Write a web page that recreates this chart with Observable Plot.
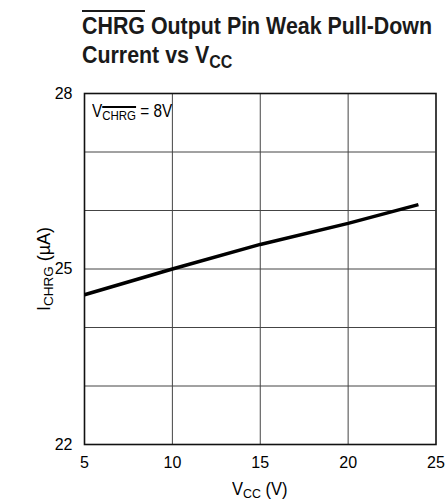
<!DOCTYPE html>
<html>
<head>
<meta charset="utf-8">
<script src="https://cdn.jsdelivr.net/npm/d3@7"></script>
<script src="https://cdn.jsdelivr.net/npm/@observablehq/plot@0.6"></script>
<style>
  html, body { margin: 0; padding: 0; background: #fff; }
  #wrap { position: relative; width: 445px; height: 502px; overflow: hidden;
          font-family: "Liberation Sans", Arial, sans-serif; color: #000; }
  #chart { position: absolute; left: 0; top: 0; }
  .ov { position: absolute; white-space: nowrap; line-height: 1; display: inline-block; }
  .title { left: 82px; font-weight: bold; font-size: 24.5px; color: #1a1a1a; transform-origin: 0 0; }
  .ol { text-decoration: overline; text-decoration-thickness: 1.5px; }
  sub { font-size: 0.75em; vertical-align: -0.25em; line-height: 0; }
</style>
</head>
<body>
<div id="wrap">
  <div id="chart"></div>
  <div class="ov title" id="t1" style="top:14.2px;"><span class="ol">CHRG</span> Output Pin Weak Pull-Down</div>
  <div class="ov title" id="t2" style="top:42.5px;">Current vs V<sub>CC</sub></div>
  <div class="ov" id="ann" style="left:92px; top:101.8px; font-size:18px; transform-origin:0 0;">V<sub><span class="ol">CHRG</span></sub> = 8V</div>
  <div class="ov" id="xl" style="top:479.5px; font-size:18px; transform-origin:0 0;">V<sub>CC</sub> (V)</div>
  <div class="ov" id="yl" style="font-size:18px; transform-origin:50% 50%;">I<sub>CHRG</sub> (µA)</div>
</div>
<script>
// Data
const vcc = [5, 10, 15, 20, 24];
const ichrg = [24.56, 25.0, 25.42, 25.78, 26.1];
const xTicks = [5, 10, 15, 20, 25];
const yTicks = [22, 25, 28];
const xGrid = [10, 15, 20];
const yGrid = [23, 24, 25, 26, 27];
const xDomain = [5, 25];
const yDomain = [22, 28];

const data = vcc.map((v, i) => ({vcc: v, i: ichrg[i]}));

const chart = Plot.plot({
  width: 445,
  height: 502,
  marginLeft: 84,
  marginRight: 9.5,
  marginTop: 93,
  marginBottom: 58,
  style: {fontFamily: '"Liberation Sans", Arial, sans-serif', fontSize: "16px", color: "#000", background: "#fff"},
  x: {domain: xDomain},
  y: {domain: yDomain},
  marks: [
    Plot.ruleX(xGrid, {x: d => d, stroke: "#444", strokeWidth: 1}),
    Plot.ruleY(yGrid, {y: d => d, stroke: "#444", strokeWidth: 1}),
    Plot.frame({stroke: "#111", strokeWidth: 1.6}),
    Plot.line(data, {x: "vcc", y: "i", stroke: "#000", strokeWidth: 3.5, strokeLinecap: "butt"}),
    Plot.axisX({ticks: xTicks, tickSize: 0, tickPadding: 12, label: null, tickFormat: d => String(d)}),
    Plot.axisY({ticks: yTicks, tickSize: 0, tickPadding: 12, label: null, tickFormat: d => String(d)})
  ]
});
document.getElementById("chart").appendChild(chart);

// Condense text horizontally to mimic the narrow face of the reference
function fit(el, w) {
  return w / el.offsetWidth;
}
const t1 = document.getElementById("t1");
const s1 = fit(t1, 350);
t1.style.transform = `scaleX(${s1})`;
document.getElementById("t2").style.transform = `scaleX(${s1})`;
const ann = document.getElementById("ann");
ann.style.transform = `scaleX(${fit(ann, 80)})`;
const xl = document.getElementById("xl");
const sx = fit(xl, 56);
xl.style.transform = `scaleX(${sx})`;
xl.style.left = (259.75 - 28) + "px";
const yl = document.getElementById("yl");
const sy = fit(yl, 84);
const w = yl.offsetWidth, h = yl.offsetHeight;
yl.style.left = (44 - w / 2) + "px";
yl.style.top = (268.5 - h / 2) + "px";
yl.style.transform = `rotate(-90deg) scaleX(${sy})`;
</script>
</body>
</html>
